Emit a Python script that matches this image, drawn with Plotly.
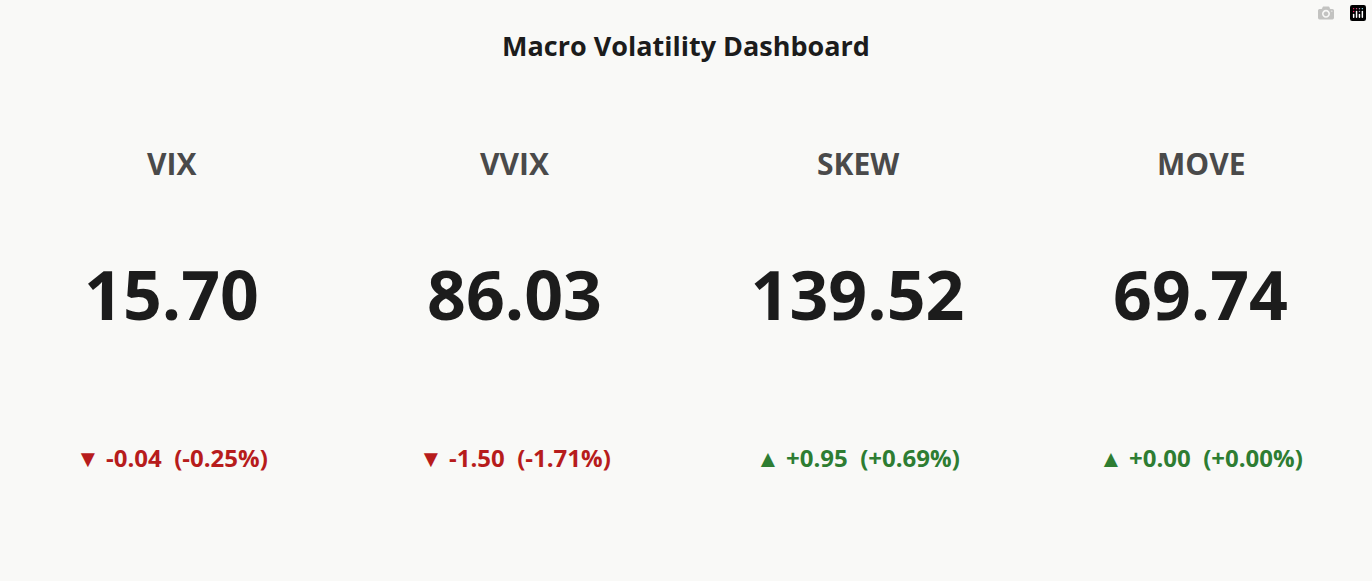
import plotly.graph_objects as go

names = ["VIX", "VVIX", "SKEW", "MOVE"]
values = [15.70, 86.03, 139.52, 69.74]
changes = [-0.04, -1.50, 0.95, 0.00]
pct_changes = [-0.25, -1.71, 0.69, 0.00]

bg = "#f9f9f7"
font = "Open Sans"

fig = go.Figure()
n = len(names)
for i, (name, val, ch, pc) in enumerate(zip(names, values, changes, pct_changes)):
    cx = (i + 0.5) / n
    fig.add_trace(go.Indicator(
        mode="number",
        value=val,
        number={"valueformat": ".2f", "font": {"size": 68, "color": "#1c1c1c", "family": font, "weight": "bold"}},
        domain={"x": [i / n, (i + 1) / n], "y": [0.31, 0.68]},
    ))
    fig.add_annotation(x=cx, y=1 - 163 / 581, xref="paper", yref="paper",
                       xanchor="center", yanchor="middle",
                       text="<b>%s</b>" % name, showarrow=False,
                       font=dict(size=30, color="#4a4a4a", family=font))
    up = ch >= 0
    color = "#2e7d32" if up else "#b71c1c"
    arrow = "▲" if up else "▼"
    fig.add_annotation(x=cx, y=1 - 457 / 581, xref="paper", yref="paper",
                       xanchor="center", yanchor="middle",
                       text="<b>%s %+.2f  (%+.2f%%)</b>" % (arrow, ch, pc), showarrow=False,
                       font=dict(size=24, color=color, family=font))

fig.update_layout(
    title=dict(text="<b>Macro Volatility Dashboard</b>", x=0.5, y=1 - 47 / 581,
               xanchor="center", yanchor="middle",
               font=dict(size=27, color="#1c1c1c", family=font)),
    paper_bgcolor=bg, plot_bgcolor=bg,
    margin=dict(l=0, r=0, t=0, b=0),
    autosize=True,
)
fig.write_html("out.html", default_width="100vw", default_height="100vh",
               config={"responsive": True})
with open("out.html") as f:
    html = f.read()
html = html.replace("<head>", "<head><style>html,body{margin:0;padding:0;overflow:hidden;background:%s}</style>" % bg, 1)
with open("out.html", "w") as f:
    f.write(html)
